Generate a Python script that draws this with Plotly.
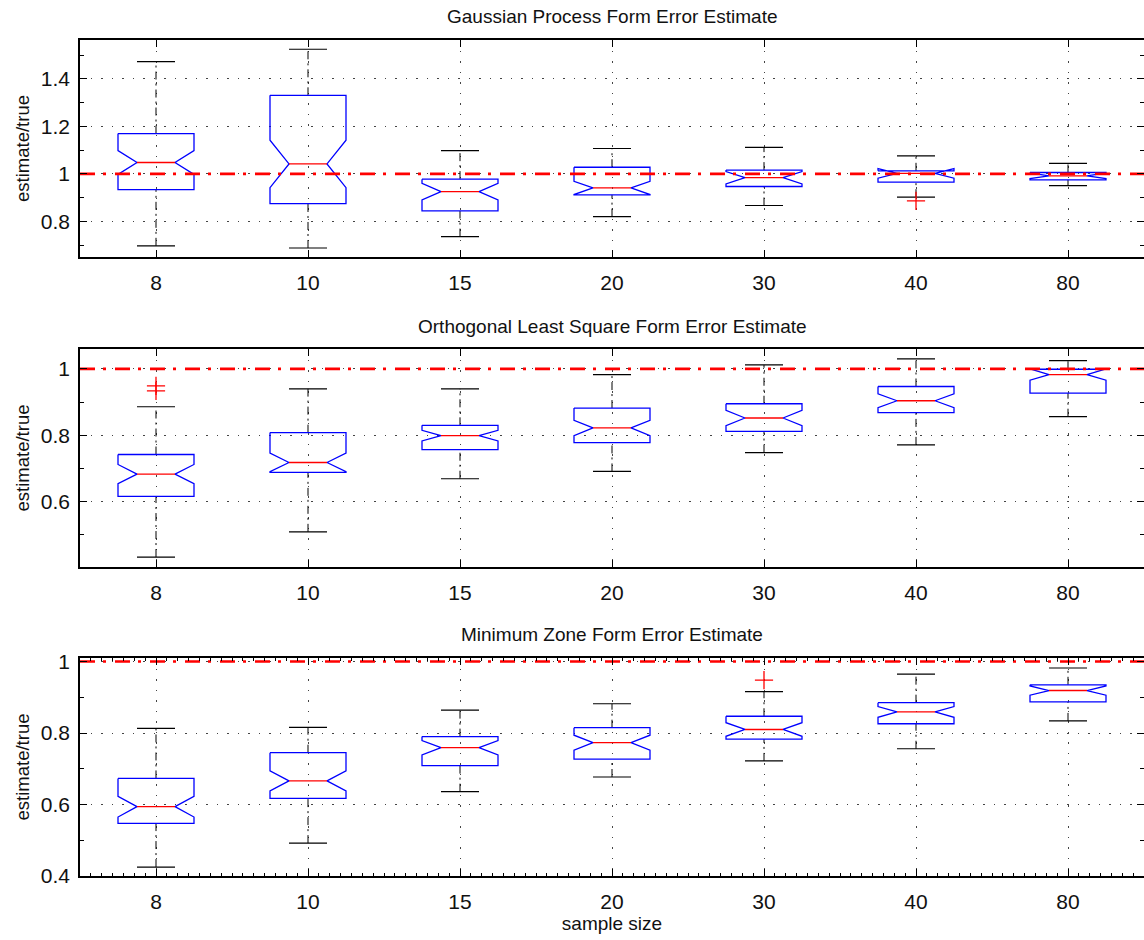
import plotly.graph_objects as go

# ---- data -------------------------------------------------------------
sample_sizes = ["8", "10", "15", "20", "30", "40", "80"]

# Gaussian process estimate / true
gp_upper = [1.473, 1.525, 1.098, 1.107, 1.112, 1.076, 1.044]
gp_q3 = [1.170, 1.331, 0.978, 1.028, 1.016, 1.013, 1.006]
gp_median = [1.048, 1.042, 0.925, 0.941, 0.984, 1.002, 0.992]
gp_q1 = [0.934, 0.875, 0.844, 0.912, 0.947, 0.965, 0.975]
gp_lower = [0.697, 0.688, 0.736, 0.820, 0.867, 0.902, 0.951]
gp_notch = [0.050, 0.100, 0.035, 0.028, 0.026, 0.020, 0.012]
gp_outlier_group = ["40"]
gp_outlier_value = [0.886]

# Orthogonal least squares estimate / true
ols_upper = [0.886, 0.940, 0.940, 0.983, 1.012, 1.030, 1.025]
ols_q3 = [0.742, 0.808, 0.830, 0.882, 0.895, 0.947, 0.999]
ols_median = [0.683, 0.718, 0.799, 0.822, 0.852, 0.904, 0.983]
ols_q1 = [0.616, 0.688, 0.757, 0.778, 0.812, 0.868, 0.927]
ols_lower = [0.433, 0.509, 0.669, 0.691, 0.748, 0.771, 0.856]
ols_notch = [0.029, 0.028, 0.016, 0.023, 0.023, 0.021, 0.017]
ols_outlier_group = ["8", "8"]
ols_outlier_value = [0.949, 0.934]

# Minimum zone estimate / true
mz_upper = [0.813, 0.816, 0.864, 0.882, 0.916, 0.965, 0.982]
mz_q3 = [0.673, 0.745, 0.790, 0.815, 0.847, 0.885, 0.935]
mz_median = [0.594, 0.666, 0.759, 0.773, 0.810, 0.859, 0.919]
mz_q1 = [0.547, 0.617, 0.709, 0.727, 0.783, 0.826, 0.887]
mz_lower = [0.425, 0.492, 0.636, 0.677, 0.722, 0.756, 0.834]
mz_notch = [0.029, 0.028, 0.020, 0.021, 0.019, 0.015, 0.013]
mz_outlier_group = ["30"]
mz_outlier_value = [0.948]

panel_titles = [
    "Gaussian Process Form Error Estimate",
    "Orthogonal Least Square Form Error Estimate",
    "Minimum Zone Form Error Estimate",
]
y_tickvals = [[0.8, 1.0, 1.2, 1.4], [0.6, 0.8, 1.0], [0.4, 0.6, 0.8, 1.0]]
y_ticktext = [["0.8", "1", "1.2", "1.4"], ["0.6", "0.8", "1"], ["0.4", "0.6", "0.8", "1"]]
y_ranges = [[0.650, 1.564], [0.403, 1.060], [0.400, 1.010]]
reference_ratio = 1.0

panels = [
    dict(upper=gp_upper, q3=gp_q3, med=gp_median, q1=gp_q1, lower=gp_lower,
         notch=gp_notch, og=gp_outlier_group, ov=gp_outlier_value),
    dict(upper=ols_upper, q3=ols_q3, med=ols_median, q1=ols_q1, lower=ols_lower,
         notch=ols_notch, og=ols_outlier_group, ov=ols_outlier_value),
    dict(upper=mz_upper, q3=mz_q3, med=mz_median, q1=mz_q1, lower=mz_lower,
         notch=mz_notch, og=mz_outlier_group, ov=mz_outlier_value),
]

# ---- layout geometry ----------------------------------------------------
W, H = 1144, 940
PLOT_LEFT = 80
panel_px = [(40, 257), (349, 567), (658, 876)]   # top/bottom of each axes box
title_px = [16, 326, 634]
BOX_W = 0.5          # box width in category units
CAP_W = 0.25         # whisker cap width
FONT = "Liberation Sans, Arial, Helvetica, sans-serif"

BLUE = "#0000ff"
RED = "#ff0000"
BLACK = "#000000"

positions = list(range(1, len(sample_sizes) + 1))
pos_of = {s: p for s, p in zip(sample_sizes, positions)}

fig = go.Figure()


def nan_join(segments):
    xs, ys = [], []
    for sx, sy in segments:
        xs += list(sx) + [None]
        ys += list(sy) + [None]
    return xs, ys


for k, p in enumerate(panels):
    xa = "x" if k == 0 else f"x{k + 1}"
    ya = "y" if k == 0 else f"y{k + 1}"

    stems, caps, outline, medians = [], [], [], []
    for i, x in enumerate(positions):
        # whisker stems run from the box edges to the caps
        stems.append(([x, x], [p["q3"][i], p["upper"][i]]))
        stems.append(([x, x], [p["lower"][i], p["q1"][i]]))
        caps.append(([x - CAP_W / 2, x + CAP_W / 2], [p["upper"][i]] * 2))
        caps.append(([x - CAP_W / 2, x + CAP_W / 2], [p["lower"][i]] * 2))
        h = BOX_W / 2
        m = p["med"][i]
        nh = m + p["notch"][i]
        nl = m - p["notch"][i]
        # notched box outline, clockwise from the top-left corner
        outline.append((
            [x - h, x + h, x + h, x + h / 2, x + h, x + h, x - h, x - h, x - h / 2, x - h, x - h],
            [p["q3"][i], p["q3"][i], nh, m, nl, p["q1"][i], p["q1"][i], nl, m, nh, p["q3"][i]],
        ))
        medians.append(([x - h / 2, x + h / 2], [m, m]))

    sx, sy = nan_join(stems)
    fig.add_trace(go.Scatter(x=sx, y=sy, xaxis=xa, yaxis=ya, mode="lines",
                             line=dict(color=BLACK, width=1, dash="8px,4px,2px,4px"),
                             hoverinfo="skip", showlegend=False))
    cx, cy = nan_join(caps)
    fig.add_trace(go.Scatter(x=cx, y=cy, xaxis=xa, yaxis=ya, mode="lines",
                             line=dict(color=BLACK, width=1.2),
                             hoverinfo="skip", showlegend=False))
    ox, oy = nan_join(outline)
    fig.add_trace(go.Scatter(x=ox, y=oy, xaxis=xa, yaxis=ya, mode="lines",
                             line=dict(color=BLUE, width=1.3),
                             hoverinfo="skip", showlegend=False))
    mx, my = nan_join(medians)
    fig.add_trace(go.Scatter(x=mx, y=my, xaxis=xa, yaxis=ya, mode="lines",
                             line=dict(color=RED, width=1.3),
                             hoverinfo="skip", showlegend=False))
    # outliers
    fig.add_trace(go.Scatter(x=[pos_of[g] for g in p["og"]], y=p["ov"], xaxis=xa, yaxis=ya,
                             mode="markers",
                             marker=dict(symbol="cross-thin", size=13,
                                         line=dict(color=RED, width=1.3)),
                             hoverinfo="skip", showlegend=False))
    # reference ratio line
    fig.add_trace(go.Scatter(x=[0.5, 7.5], y=[reference_ratio] * 2, xaxis=xa, yaxis=ya,
                             mode="lines",
                             line=dict(color=RED, width=2.6, dash="15px,8px,3px,9px"),
                             hoverinfo="skip", showlegend=False, cliponaxis=True))

    top, bot = panel_px[k]
    ydom = [1 - bot / H, 1 - top / H]
    xaxis = dict(
        domain=[PLOT_LEFT / W, 1.0], range=[0.5, 7.5], anchor=ya,
        tickmode="array", tickvals=positions, ticktext=sample_sizes,
        ticks="inside", ticklen=7, tickwidth=1, tickcolor=BLACK,
        showline=True, linecolor=BLACK, linewidth=1.6, mirror="ticks",
        showgrid=True, gridcolor="#444", gridwidth=1, griddash="1.5px,9px",
        zeroline=False, tickfont=dict(family=FONT, size=21, color="#111"),
        ticklabelstandoff=6,
    )
    if k == 2:
        xaxis["minor"] = dict(ticks="inside", dtick=1 / 14, tick0=0.5, ticklen=3,
                              tickcolor=BLACK, tickwidth=1, showgrid=False)
        xaxis["title"] = dict(text="sample size",
                              font=dict(family=FONT, size=19, color="#111"), standoff=4)
    yaxis = dict(
        domain=ydom, range=y_ranges[k], anchor=xa,
        tickmode="array", tickvals=y_tickvals[k], ticktext=y_ticktext[k],
        ticks="inside", ticklen=7, tickwidth=1, tickcolor=BLACK,
        minor=dict(ticks="inside", dtick=0.1, tick0=0, ticklen=4, tickcolor=BLACK,
                   tickwidth=1, showgrid=False),
        showline=True, linecolor=BLACK, linewidth=1.6, mirror="ticks",
        showgrid=True, gridcolor="#444", gridwidth=1, griddash="1.5px,9px",
        zeroline=False, tickfont=dict(family=FONT, size=21, color="#111"),
        ticklabelstandoff=4,
        title=dict(text="estimate/true", font=dict(family=FONT, size=18.5, color="#111"),
                   standoff=6),
    )
    fig.layout["xaxis" if k == 0 else f"xaxis{k + 1}"] = xaxis
    fig.layout["yaxis" if k == 0 else f"yaxis{k + 1}"] = yaxis

    fig.add_annotation(text=panel_titles[k], xref="paper", yref="paper",
                       x=(PLOT_LEFT + W) / 2 / W, y=1 - title_px[k] / H,
                       xanchor="center", yanchor="middle", showarrow=False,
                       font=dict(family=FONT, size=19, color="#111"))

fig.update_layout(
    width=W, height=H,
    margin=dict(l=0, r=0, t=0, b=0, autoexpand=False),
    paper_bgcolor="white", plot_bgcolor="white",
    showlegend=False,
)

fig.write_html("out.html", config={"displayModeBar": False})
